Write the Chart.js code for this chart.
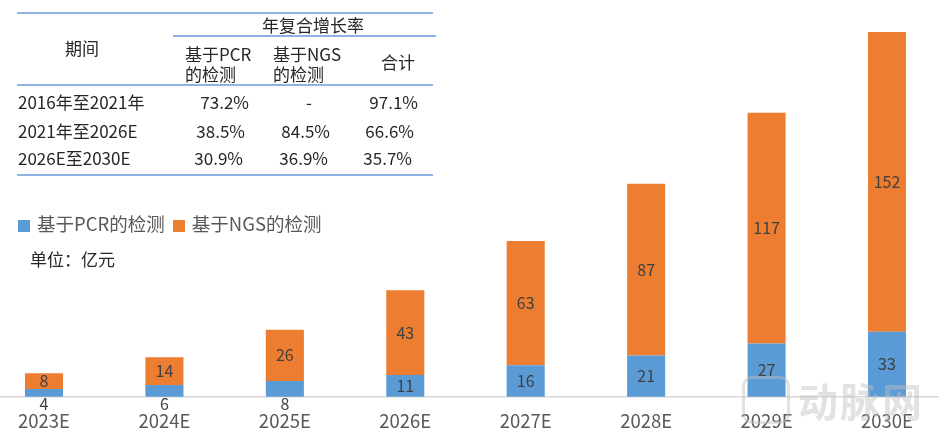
<!DOCTYPE html>
<html>
<head>
<meta charset="utf-8">
<script src="https://cdn.jsdelivr.net/npm/chart.js@4.4.1/dist/chart.umd.min.js"></script>
<style>
  html, body { margin: 0; padding: 0; background: #fff; }
  body { width: 939px; height: 437px; position: relative; overflow: hidden;
         font-family: "Noto Sans CJK SC", "Noto Sans", sans-serif; }
  #chart { position: absolute; left: 0; top: 0; }
  .t { position: absolute; color: #262626; font-size: 17px; line-height: 20px; white-space: nowrap; }
  .hl { position: absolute; height: 2px; background: #8DB3E2; }
  .legend { position: absolute; left: 18px; top: 211px; font-size: 18.5px; color: #595959; line-height: 24px; }
  .legend span.box { display: inline-block; width: 12px; height: 12px; margin-right: 7px; vertical-align: -1px; }
  .wm { position: absolute; left: 742px; top: 376px; color: rgba(190,190,190,0.45); font-size: 40px;
        font-weight: bold; line-height: 48px; letter-spacing: 2px; }
  .wm .logo { display: inline-block; width: 42px; height: 42px; border-radius: 10px;
              border: 3px solid rgba(190,190,190,0.45); vertical-align: top; margin-right: 8px; }
</style>
</head>
<body>
<canvas id="chart" width="939" height="437"></canvas>

<!-- growth table -->
<div class="hl" style="left:17px;top:12px;width:416px;"></div>
<div class="hl" style="left:173px;top:35px;width:263px;"></div>
<div class="hl" style="left:17px;top:84px;width:416px;"></div>
<div class="hl" style="left:17px;top:174px;width:416px;"></div>
<div id="table"></div>

<div class="legend" id="legend"></div>
<div class="t" style="left:30px;top:249px;">单位：亿元</div>
<div class="wm"><span class="logo"></span>动脉网</div>

<script>
var categories = ['2023E', '2024E', '2025E', '2026E', '2027E', '2028E', '2029E', '2030E'];
var pcr_values = [4, 6, 8, 11, 16, 21, 27, 33];
var ngs_values = [8, 14, 26, 43, 63, 87, 117, 152];
var series_names = ['基于PCR的检测', '基于NGS的检测'];
var series_colors = ['#5B9BD5', '#ED7D31'];

var table_periods = ['2016年至2021年', '2021年至2026E', '2026E至2030E'];
var table_pcr = ['73.2%', '38.5%', '30.9%'];
var table_ngs = ['-', '84.5%', '36.9%'];
var table_total = ['97.1%', '66.6%', '35.7%'];

// table text
var table = document.getElementById('table');
function addText(txt, left, top, align, width) {
  var d = document.createElement('div');
  d.className = 't';
  d.textContent = txt;
  d.style.top = top + 'px';
  if (align === 'right') {
    d.style.left = (left - width) + 'px';
    d.style.width = width + 'px';
    d.style.textAlign = 'right';
  } else if (align === 'center') {
    d.style.left = (left - width / 2) + 'px';
    d.style.width = width + 'px';
    d.style.textAlign = 'center';
  } else {
    d.style.left = left + 'px';
  }
  table.appendChild(d);
  return d;
}
addText('年复合增长率', 313, 15, 'center', 160);
addText('期间', 82, 38, 'center', 80);
addText('基于PCR', 185, 44);
addText('的检测', 185, 64);
addText('基于NGS', 273, 44);
addText('的检测', 273, 64);
addText('合计', 398, 52, 'center', 60);
var row_tops = [92, 121, 148];
var pcr_right = [249, 245, 243];
var ngs_right = [312, 330, 328];
var tot_right = [418, 414, 412];
for (var i = 0; i < table_periods.length; i++) {
  addText(table_periods[i], 18, row_tops[i]);
  addText(table_pcr[i], pcr_right[i], row_tops[i], 'right', 80);
  if (table_ngs[i] === '-') addText(table_ngs[i], 309, row_tops[i], 'center', 30);
  else addText(table_ngs[i], ngs_right[i], row_tops[i], 'right', 80);
  addText(table_total[i], tot_right[i], row_tops[i], 'right', 80);
}

// legend
var legend = document.getElementById('legend');
legend.innerHTML = series_names.map(function (n, k) {
  return '<span class="box" style="background:' + series_colors[k] + '"></span>' + n;
}).join('<span style="display:inline-block;width:8px"></span>');

// value labels + full-width baseline
var labelPlugin = {
  id: 'segLabels',
  beforeDatasetsDraw: function (chart) {
    var ctx = chart.ctx;
    var y0 = chart.scales.y.getPixelForValue(0);
    ctx.save();
    ctx.strokeStyle = '#D9D9D9';
    ctx.lineWidth = 1.5;
    ctx.beginPath();
    ctx.moveTo(0, y0);
    ctx.lineTo(chart.width, y0);
    ctx.stroke();
    ctx.restore();
  },
  afterDatasetsDraw: function (chart) {
    var ctx = chart.ctx;
    ctx.save();
    ctx.font = '16px "Noto Sans CJK SC", "Noto Sans", sans-serif';
    ctx.fillStyle = '#404040';
    ctx.textAlign = 'center';
    ctx.textBaseline = 'middle';
    chart.data.datasets.forEach(function (ds, di) {
      var meta = chart.getDatasetMeta(di);
      meta.data.forEach(function (bar, i) {
        var h = bar.base - bar.y;
        var y = (bar.y + bar.base) / 2;
        if (di === 0 && h < 20) y = bar.base + 7;
        ctx.fillText(String(ds.data[i]), bar.x, y);
      });
    });
    ctx.restore();
  }
};

new Chart(document.getElementById('chart'), {
  type: 'bar',
  data: {
    labels: categories,
    datasets: [{
      label: series_names[0],
      data: pcr_values,
      backgroundColor: series_colors[0],
      clip: false
    }, {
      label: series_names[1],
      data: ngs_values,
      backgroundColor: series_colors[1],
      clip: false
    }]
  },
  options: {
    responsive: false,
    animation: false,
    layout: { padding: { left: 44, right: 52, top: 32, bottom: 0 } },
    plugins: { legend: { display: false }, tooltip: { enabled: false } },
    datasets: { bar: { categoryPercentage: 1, barPercentage: 0.316 } },
    scales: {
      x: {
        stacked: true,
        offset: false,
        grid: { display: false },
        border: { display: false },
        ticks: {
          padding: 5,
          color: '#595959',
          font: { family: '"Noto Sans CJK SC", "Noto Sans", sans-serif', size: 18.5 }
        }
      },
      y: {
        stacked: true,
        display: false,
        min: 0,
        max: 185
      }
    }
  },
  plugins: [labelPlugin]
});
</script>
</body>
</html>
